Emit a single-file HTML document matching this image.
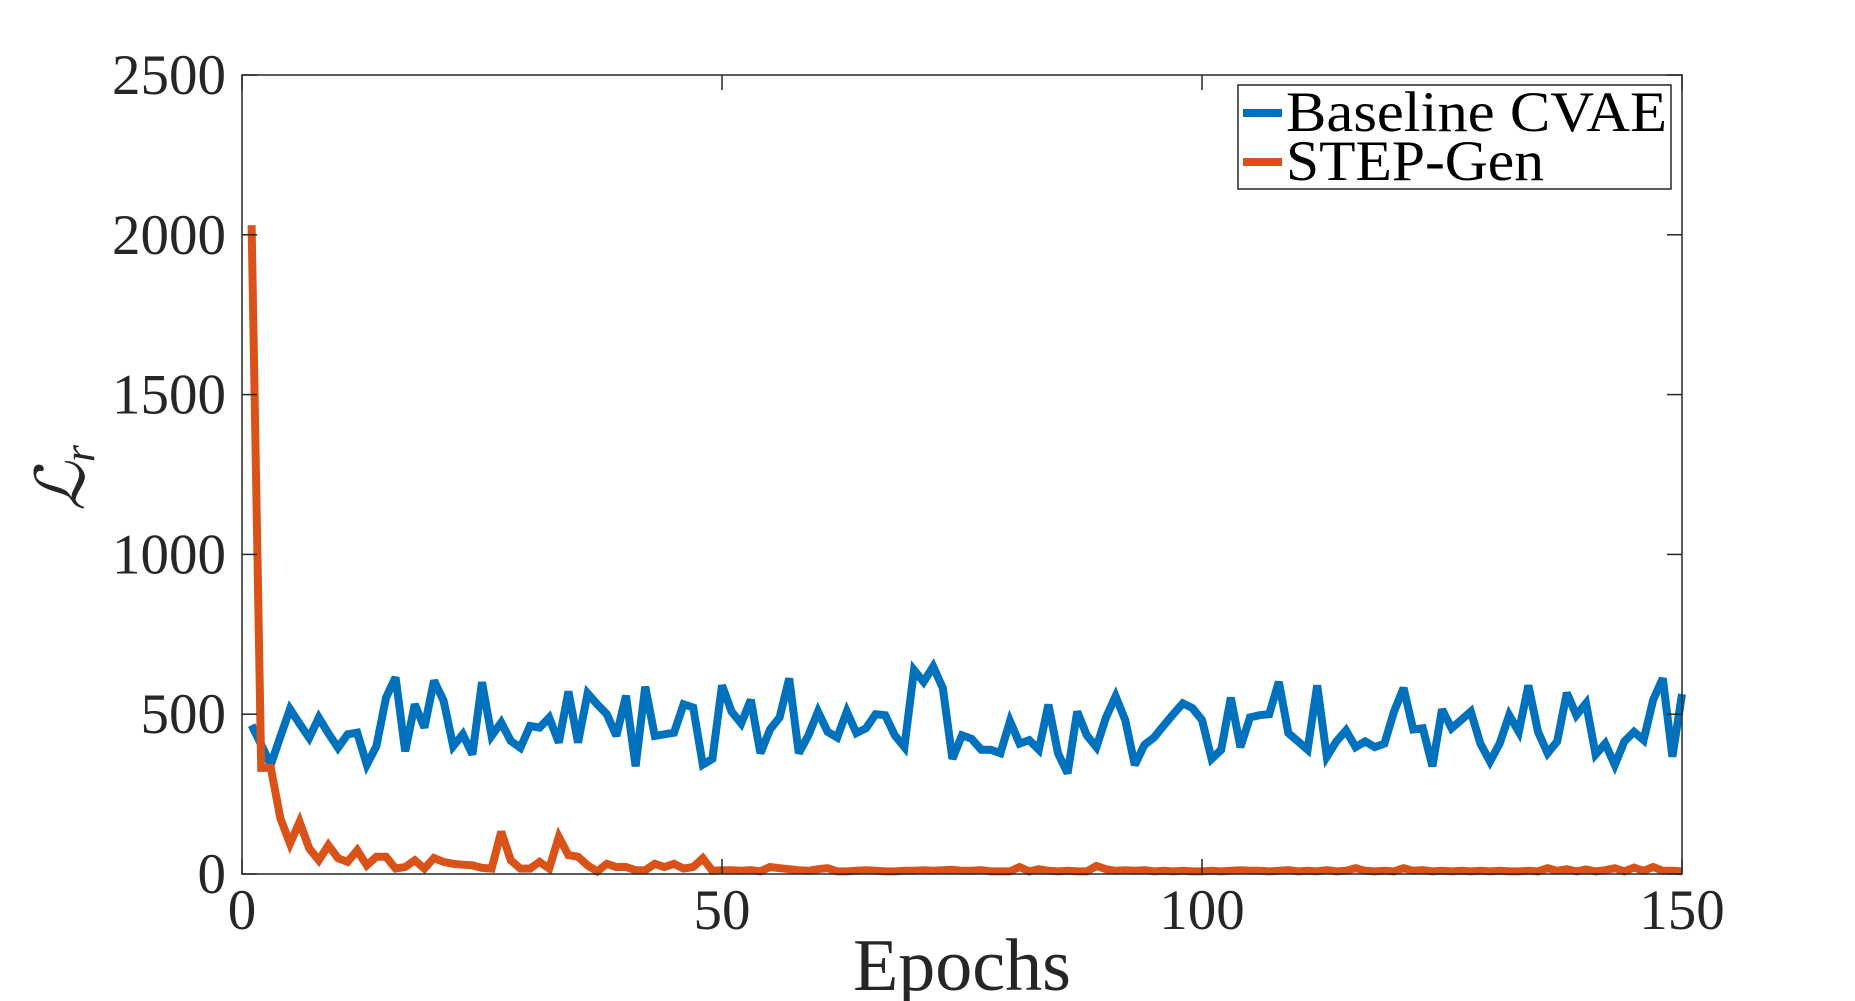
<!DOCTYPE html>
<html><head><meta charset="utf-8"><style>
html,body{margin:0;padding:0;background:#fff;}
svg{display:block;font-family:"Liberation Serif",serif;}
</style></head><body>
<svg id="chart" width="1855" height="1001" viewBox="0 0 1855 1001" xmlns="http://www.w3.org/2000/svg">
<rect x="0" y="0" width="1855" height="1001" fill="#fff"/>
<g id="plot"></g>
</svg>
<script>
const xTicks=[0,50,100,150];
const yTicks=[0,500,1000,1500,2000,2500];
const seriesNames=["Baseline CVAE","STEP-Gen"];
const baseline=[466,405,342,430,516,470,426,489,440,395,437,442,342,400,552,615,384,531,458,605,542,400,437,374,600,432,474,416,395,463,458,489,411,571,411,565,531,500,432,558,337,586,432,437,442,531,521,342,
360,590,508,471,545,378,452,490,612,378,434,508,445,427,508,441,456,500,497,434,397,638,601,649,582,360,434,423,389,389,378,478,408,419,389,530,378,315,508,434,397,490,556,482,341,404,427,464,500,534,519,482,360,389,552,397,490,497,500,601,441,415,389,590,367,415,449,397,415,397,408,508,582,452,456,337,515,456,482,508,408,352,408,497,445,590,445,378,415,567,497,534,374,408,341,415,445,419,545,612,367,563];
const stepgen=[2030,332,332,174,95,163,80,43,90,49,38,74,27,54,54,17,22,43,17,50,38,32,29,27,19,17,132,43,17,17,38,17,116,59,54,27,8,32,22,22,12,12,32,22,32,17,22,49,
10,12,12,10,12,8,22,18,15,12,10,15,18,8,8,10,12,10,8,8,10,10,12,10,12,13,10,10,12,8,8,8,22,8,15,10,8,10,8,8,25,15,10,12,10,12,8,10,8,10,8,8,10,8,10,12,10,10,8,10,12,8,10,8,12,8,10,18,10,8,10,8,18,10,12,8,10,8,10,8,10,8,10,8,8,10,8,18,10,15,8,14,8,12,18,8,20,10,22,10,10,8];

const NS="http://www.w3.org/2000/svg";
const L=242,R=1682,T=75,B=874;
const xMin=0,xMax=150,yMin=0,yMax=2500;
const xs=v=>L+(v-xMin)/(xMax-xMin)*(R-L);
const ys=v=>B-(v-yMin)/(yMax-yMin)*(B-T);
const g=document.getElementById('plot');
function mk(tag,attrs){const e=document.createElementNS(NS,tag);for(const k in attrs)e.setAttribute(k,attrs[k]);g.appendChild(e);return e;}

const colors=["#0072BD","#D95319"];
[baseline,stepgen].forEach((arr,si)=>{
  const pts=arr.map((v,i)=>xs(i+1).toFixed(1)+","+ys(v).toFixed(1)).join(" ");
  const pl=mk('polyline',{points:pts,fill:"none",stroke:colors[si],"stroke-width":8,"stroke-linejoin":"miter","stroke-miterlimit":3});
  
  
});

const box=mk('rect',{x:L,y:T,width:R-L,height:B-T,fill:"none",stroke:"#262626","stroke-width":1.5});



xTicks.forEach(t=>{
  const x=xs(t);
  const a=mk('line',{x1:x,y1:B,x2:x,y2:B-15,stroke:"#262626","stroke-width":1.5});
  
  
  const b=mk('line',{x1:x,y1:T,x2:x,y2:T+15,stroke:"#262626","stroke-width":1.5});
  
  
  const tx=mk('text',{x:x,y:929,"font-size":57,"text-anchor":"middle",fill:"#262626"});
  tx.textContent=t;
  
  
});
yTicks.forEach(t=>{
  const y=ys(t);
  const a=mk('line',{x1:L,y1:y,x2:L+15,y2:y,stroke:"#262626","stroke-width":1.5});
  
  
  const b=mk('line',{x1:R,y1:y,x2:R-15,y2:y,stroke:"#262626","stroke-width":1.5});
  
  
  const tx=mk('text',{x:226,y:y+19,"font-size":57,"text-anchor":"end",fill:"#262626"});
  tx.textContent=t;
  
  
});

const xt=mk('text',{x:(L+R)/2,y:990,"font-size":74,"text-anchor":"middle",fill:"#262626"});
xt.textContent="Epochs";


const yt=mk('text',{x:0,y:0,"font-size":68,"font-style":"italic","text-anchor":"middle",fill:"#262626",transform:"translate(84,478) rotate(-90)"});
yt.textContent="ℒ";
const sub=document.createElementNS(NS,'tspan');
sub.setAttribute('font-size','44');
sub.setAttribute('dy','10');
sub.textContent="r";
yt.appendChild(sub);



const lg=mk('rect',{x:1238,y:85,width:433,height:104,fill:"#fff",stroke:"#262626","stroke-width":1.5});


const lens=[381,258];
seriesNames.forEach((n,i)=>{
  const y=113+i*49;
  const ln=mk('line',{x1:1243,y1:y,x2:1282,y2:y,stroke:colors[i],"stroke-width":8});
  
  
  const tx=mk('text',{x:1286,y:y+18,"font-size":57,fill:"#000",textLength:lens[i],lengthAdjust:"spacingAndGlyphs"});
  tx.textContent=n;
  
  
});
</script>
</body></html>
